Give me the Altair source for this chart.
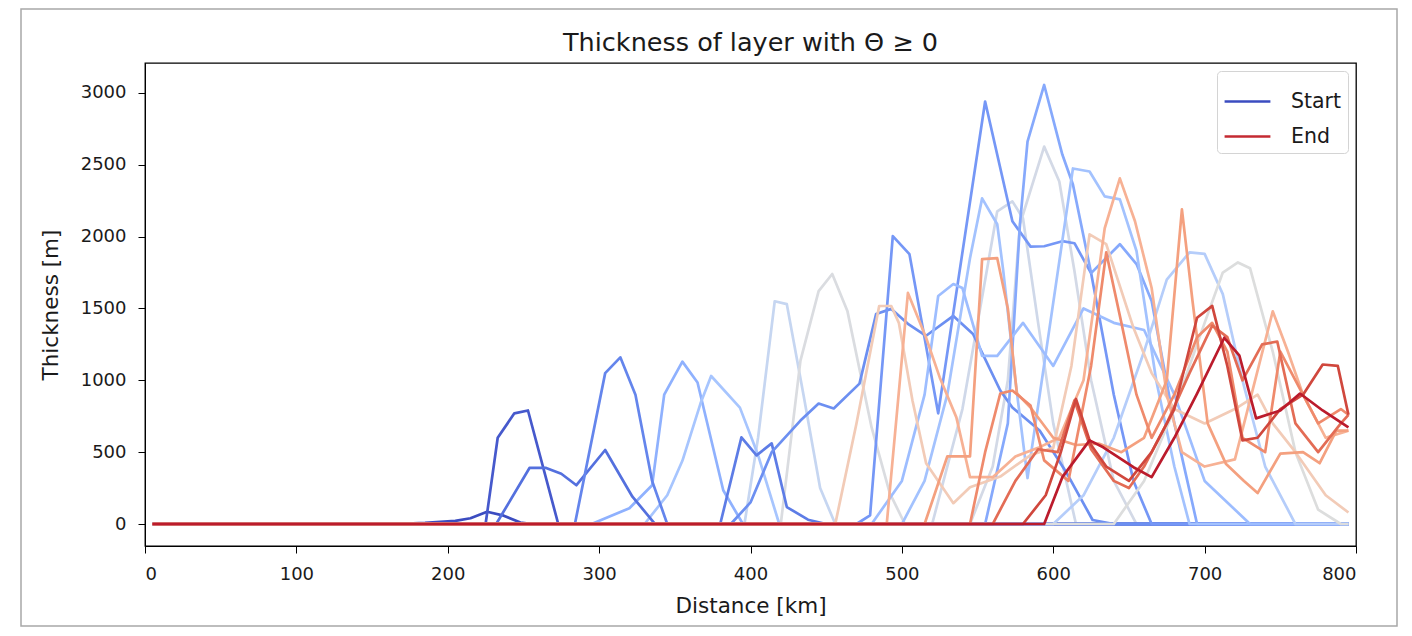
import altair as alt
import pandas as pd

# ---- data: each series is (distance km, thickness m) vertices; zero elsewhere ----
x_01 = [165, 185, 205, 215, 226, 237, 248, 256]
y_01 = [0, 8, 22, 40, 85, 58, 10, 0]
x_02 = [225, 233, 244, 253, 273]
y_02 = [0, 600, 770, 790, 0]
x_03 = [232, 254, 265, 275, 285, 304, 322, 337]
y_03 = [0, 390, 390, 350, 270, 515, 190, 0]
x_04 = [380, 394, 404, 414, 424, 438, 450]
y_04 = [0, 603, 478, 561, 118, 30, 0]
x_05 = [284, 304, 314, 324, 335, 345]
y_05 = [0, 1050, 1160, 900, 300, 0]
x_06 = [387, 400, 414, 433, 445, 455, 472, 483, 493, 504, 516, 534, 547, 565, 573, 591, 609, 626, 640]
y_06 = [0, 150, 500, 720, 838, 804, 977, 1462, 1497, 1393, 1310, 1448, 1323, 929, 811, 651, 353, 28, 0]
x_07 = [470, 479, 494, 505, 524, 555, 573, 585, 594, 606, 614, 625, 640, 653, 665]
y_07 = [0, 60, 2003, 1878, 770, 2940, 2107, 1930, 1933, 1968, 1954, 1746, 900, 300, 0]
x_08 = [295, 320, 335, 343, 355, 365, 382, 395]
y_08 = [0, 110, 270, 900, 1130, 985, 235, 0]
x_09 = [555, 570, 578, 583, 594, 606, 613, 625, 644, 655, 665, 680, 695]
y_09 = [0, 700, 2086, 2661, 3055, 2571, 2363, 1746, 1947, 1809, 1552, 700, 0]
x_10 = [330, 345, 355, 367, 374, 393, 405, 419]
y_10 = [0, 200, 440, 840, 1030, 810, 480, 0]
x_11 = [500, 515, 530, 545, 553, 563, 567, 575, 583, 613, 624, 634, 644, 655, 668, 680, 690]
y_11 = [0, 300, 900, 1850, 2266, 2086, 1760, 1000, 320, 2474, 2453, 2280, 2259, 1900, 1000, 400, 0]
x_12 = [480, 500, 515, 524, 534, 540, 553, 563, 580, 600, 620, 640, 660, 680, 700, 730]
y_12 = [0, 300, 900, 1587, 1670, 1642, 1170, 1170, 1400, 1100, 1500, 1400, 1350, 900, 300, 0]
x_13 = [396, 405, 416, 424, 435, 446, 456]
y_13 = [0, 600, 1550, 1530, 900, 250, 0]
x_14 = [420, 433, 445, 454, 464, 480, 492, 502]
y_14 = [0, 1137, 1620, 1740, 1483, 672, 215, 0]
x_15 = [545, 560, 570, 578, 594, 604, 614, 625, 640, 655]
y_15 = [0, 400, 1000, 2086, 2626, 2384, 1760, 1000, 300, 0]
x_16 = [520, 540, 563, 573, 580, 590, 600, 615]
y_16 = [0, 800, 2176, 2245, 2128, 1400, 700, 0]
x_17 = [600, 620, 640, 660, 675, 690, 700, 712, 725, 740, 760]
y_17 = [0, 200, 600, 1200, 1700, 1890, 1880, 1600, 1000, 400, 0]
x_18 = [640, 660, 680, 700, 712, 722, 730, 745, 760, 775, 790]
y_18 = [0, 300, 800, 1400, 1750, 1820, 1780, 1200, 500, 100, 0]
x_19 = [456, 470, 485, 493, 498, 507, 516, 534, 545, 565, 585, 600, 612, 624, 635, 653, 665, 680, 700, 720, 735, 745, 760, 780, 795]
y_19 = [0, 700, 1517, 1517, 1400, 860, 423, 145, 256, 330, 480, 530, 1100, 2016, 1947, 1365, 1050, 800, 700, 800, 900, 700, 500, 200, 80]
x_20 = [490, 504, 516, 525, 536, 545, 560, 575, 590, 604, 620, 634, 644, 654, 665, 675, 685, 700, 720, 745, 755, 765, 780, 795]
y_20 = [0, 1608, 1296, 1020, 742, 326, 326, 470, 530, 600, 1000, 2058, 2405, 2107, 1642, 900, 500, 400, 450, 1480, 1200, 900, 600, 650]
x_21 = [515, 530, 545, 553, 563, 570, 576, 585, 600, 615, 630, 645, 660, 675, 685, 692, 702, 714, 726, 735, 750, 765, 776, 787, 795]
y_21 = [0, 470, 470, 1843, 1850, 1500, 908, 811, 600, 550, 560, 500, 600, 1000, 2190, 1552, 700, 420, 300, 215, 490, 500, 423, 650, 650]
x_22 = [545, 555, 565, 573, 585, 594, 610, 625, 635, 645, 655, 665, 680, 695, 705, 715, 725, 740, 750, 760, 775, 790, 795]
y_22 = [0, 500, 908, 929, 825, 443, 300, 1100, 1890, 1400, 900, 600, 900, 1300, 1400, 1200, 600, 500, 1200, 1000, 700, 800, 760]
x_23 = [560, 575, 590, 603, 614, 625, 640, 650, 660, 675, 690, 705, 715, 725, 738, 748, 760, 775, 790, 795]
y_23 = [0, 300, 520, 500, 860, 520, 300, 250, 400, 700, 1050, 1380, 1300, 1000, 1250, 1270, 700, 500, 700, 760]
x_24 = [580, 595, 605, 615, 625, 635, 650, 665, 680, 695, 705, 715, 725, 735, 750, 765, 778, 788, 795]
y_24 = [0, 200, 500, 870, 550, 400, 300, 500, 800, 1435, 1518, 1100, 582, 600, 800, 900, 1110, 1100, 760]
x_25 = [594, 606, 624, 633, 653, 665, 680, 695, 713, 723, 734, 750, 763, 778, 795]
y_25 = [0, 326, 582, 534, 395, 326, 600, 908, 1296, 1171, 735, 790, 908, 790, 672]

# drawing order (earliest first; later ones are painted on top)
series_x = [x_13, x_14, x_15, x_16, x_08, x_10, x_01, x_02, x_03, x_05, x_04, x_06, x_07,
            x_09, x_11, x_12, x_17, x_18, x_19, x_20, x_21, x_22, x_23, x_24, x_25]
series_y = [y_13, y_14, y_15, y_16, y_08, y_10, y_01, y_02, y_03, y_05, y_04, y_06, y_07,
            y_09, y_11, y_12, y_17, y_18, y_19, y_20, y_21, y_22, y_23, y_24, y_25]

# line colours (coolwarm-like), matching the order above
series_colors = ["#c6d6f1", "#dadce0", "#d3d9e6", "#cfd8e9", "#8fb1fe", "#a7c5fe", "#3b4cc0",
                 "#4659cc", "#5470de", "#6485ec", "#5d7ce6", "#6c8ff1", "#7597f6", "#86a9fc",
                 "#a3c2fe", "#9dbdff", "#b5cdfa", "#dcdddd", "#f2cbb7", "#f7b194", "#f4a07f",
                 "#ef8a6c", "#e36c55", "#d0473d", "#bb1b2c"]

legend_labels = ["Start", "End"]
legend_colors = ["#3b4cc0", "#c42a32"]

X_FIRST, X_LAST = 5, 795

rows = []
names = []
for i, (xs, ys) in enumerate(zip(series_x, series_y)):
    name = f"s{i:02d}"
    names.append(name)
    px, py = list(xs), list(ys)
    if px[0] > X_FIRST:
        px = [X_FIRST] + px
        py = [0] + py
    if px[-1] < X_LAST:
        px = px + [X_LAST]
        py = py + [0]
    for k, (a, b) in enumerate(zip(px, py)):
        rows.append({"series": name, "x": a, "y": b, "k": k})
df = pd.DataFrame(rows)

FONT = "DejaVu Sans"
TXT = "#1a1a1a"

lines = alt.Chart(df).mark_line(strokeWidth=2.7, strokeJoin="round", clip=True).encode(
    x=alt.X("x:Q", scale=alt.Scale(domain=[0, 800], nice=False, zero=False),
            axis=alt.Axis(title="Distance [km]", values=list(range(0, 801, 100)), format="d")),
    y=alt.Y("y:Q", scale=alt.Scale(domain=[-153, 3208], nice=False, zero=False),
            axis=alt.Axis(title="Thickness [m]", values=list(range(0, 3001, 500)), format="d")),
    color=alt.Color("series:N", scale=alt.Scale(domain=names, range=series_colors), legend=None),
    order=alt.Order("k:Q"),
    detail="series:N",
)

# decorative outer frame of the figure (screenshot border)
frame = alt.Chart(pd.DataFrame({"f": [0]})).mark_rect(
    fill=None, stroke="#a8a8a8", strokeWidth=1.5, clip=False
).encode(x=alt.value(-124), x2=alt.value(1252), y=alt.value(-54), y2=alt.value(563))

leg_df = pd.DataFrame({"lab": legend_labels, "x": [None, None], "y": [None, None]})
legend_layer = alt.Chart(leg_df).mark_line(strokeWidth=2.7).encode(
    x="x:Q",
    y="y:Q",
    color=alt.Color("lab:N", scale=alt.Scale(domain=legend_labels, range=legend_colors),
                    legend=alt.Legend(title=None, orient="top-right", offset=8,
                                      symbolType="stroke", symbolStrokeWidth=2.7,
                                      symbolSize=2100, labelFontSize=20.5, labelFont=FONT,
                                      labelColor=TXT, labelOffset=19,
                                      padding=6, rowPadding=-3,
                                      strokeColor="#d4d4d4", cornerRadius=4,
                                      fillColor="white")),
)

chart = alt.layer(frame, lines, legend_layer).resolve_scale(color="independent").properties(
    width=1211, height=483,
    title=alt.TitleParams("Thickness of layer with \u0398 \u2265 0", fontSize=25.5, font=FONT,
                          fontWeight="normal", color=TXT, offset=9, dy=57),
    padding={"left": 137, "top": 55, "right": 48, "bottom": 82},
    autosize=alt.AutoSizeParams(type="none"),
).configure_view(stroke="black", strokeWidth=1.3).configure_axis(
    labelFont=FONT, titleFont=FONT, labelFontSize=18, titleFontSize=21.5,
    labelColor=TXT, titleColor=TXT, titleFontWeight="normal",
    domainColor="black", tickColor="black", tickSize=7, grid=False,
    labelPadding=12,
).configure_axisX(titlePadding=12).configure_axisY(titlePadding=18)

chart.save("out.html", embed_options={"renderer": "svg", "actions": False})
